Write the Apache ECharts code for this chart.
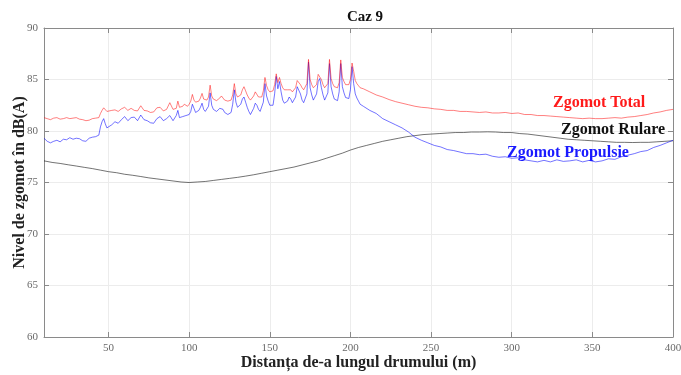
<!DOCTYPE html>
<html>
<head>
<meta charset="utf-8">
<script src="https://cdn.jsdelivr.net/npm/echarts@6/dist/echarts.min.js"></script>
<style>html,body{margin:0;padding:0;background:#fff}#c{width:681px;height:375px}</style>
</head>
<body>
<div id="c"></div>
<script>
// Distance samples shared by Zgomot Total and Zgomot Propulsie (m)
var distTP = [10,12,14,16,18,20,22,24,26,28,30,32,34,36,38,40,42,44,
45,46,47,48,49,50,52,54,56,58,60,62,64,66,68,70,72,74,76,78,80,82,84,86,88,90,92,93,94,96,
97,98,99,100,101,102,103,104,105,106,107,108,109,110,111,112,113,114,115,116,117,118,119,120,
121,122,123,124,125,126,127,128,129,130,131,132,133,134,135,136,137,138,139,140,141,142,143,144,
145,146,147,148,149,150,151,152,153,154,155,156,157,158,159,160,161,162,163,164,165,166,167,168,
169,170,171,172,173,174,175,176,177,178,179,180,181,182,183,184,185,186,187,188,189,190,191,192,
193,194,195,196,197,198,199,200,201,202,203,204,205,206,
208,212,216,220,224,228,232,236,240,244,248,252,256,260,264,268,272,276,280,284,288,292,296,300,
304,308,312,316,320,324,328,332,336,340,344,348,352,356,360,364,368,372,376,380,384,388,392,396,400];

var totalDB = [81.3,81.2,81.1,81.25,81.3,81.15,81.2,81.3,81.2,81.25,81.3,81.15,81.1,81.0,81.05,81.2,81.25,81.3,
81.7,82.0,82.25,82.1,81.9,81.85,82.0,82.05,81.9,82.15,82.3,82.0,82.2,82.0,81.95,82.45,82.0,81.95,81.8,81.85,82.25,82.3,81.95,82.1,82.75,82.1,82.2,82.9,82.3,82.4,
82.6,82.5,82.4,82.6,82.9,83.55,83.0,82.8,82.7,82.9,83.2,83.65,83.1,82.95,83.0,83.3,84.45,83.4,83.1,83.0,82.95,83.0,83.2,83.4,
83.2,83.0,82.95,82.9,82.9,83.0,83.5,84.6,83.6,83.3,83.25,83.5,84.0,84.3,83.9,83.5,83.2,83.0,83.05,83.4,83.8,83.75,83.3,83.2,
83.3,83.9,85.2,84.4,84.0,83.8,83.75,83.9,84.5,85.55,84.7,85.2,84.6,84.2,84.0,83.95,84.0,84.1,84.0,83.8,83.8,84.2,84.9,84.8,
84.5,84.2,84.0,84.0,84.6,86.95,85.0,84.5,84.2,84.15,84.5,85.5,85.65,85.0,84.5,84.2,84.15,84.6,86.95,85.1,84.6,84.3,84.2,84.2,
84.7,86.9,85.2,84.8,84.5,84.45,84.5,85.0,86.6,85.8,84.9,84.6,84.4,84.2,
84.1,83.8,83.5,83.3,83.05,82.85,82.7,82.55,82.4,82.3,82.25,82.15,82.1,82.0,82.0,81.9,81.9,81.85,81.8,81.85,81.75,81.75,81.8,81.7,
81.75,81.6,81.6,81.5,81.5,81.45,81.4,81.35,81.3,81.25,81.2,81.25,81.2,81.2,81.25,81.3,81.25,81.35,81.4,81.5,81.6,81.75,81.85,82.0,82.1];

var propulsieDB = [79.3,79.0,78.85,79.0,79.1,78.95,79.2,79.15,79.35,79.2,79.3,79.25,79.05,79.0,79.3,79.4,79.45,79.6,
80.4,80.9,81.2,80.7,80.3,80.4,80.6,80.9,80.75,81.1,81.4,81.0,81.3,81.35,81.0,81.55,81.1,81.0,80.8,80.75,81.2,81.4,81.0,81.2,81.5,81.0,81.5,82.0,81.3,81.4,
81.3,81.5,81.4,81.6,81.9,82.6,82.2,81.8,81.7,82.0,82.3,82.7,82.1,81.9,81.95,82.4,83.7,82.5,82.1,81.95,81.9,82.0,82.2,82.35,
82.1,81.8,81.7,81.6,81.55,81.8,82.6,84.0,82.8,82.3,82.2,82.6,83.1,83.3,82.8,82.3,81.9,81.6,81.6,82.2,82.7,82.5,82.1,81.9,
81.95,82.8,84.6,83.4,82.9,82.5,82.35,82.5,83.6,85.3,84.1,84.8,83.8,83.0,82.7,82.7,82.9,83.3,83.1,82.75,82.7,83.3,84.3,84.2,
83.6,83.0,82.75,82.7,83.6,86.7,84.2,83.5,83.0,82.95,83.6,84.8,85.1,84.2,83.5,83.0,82.85,83.7,86.55,84.3,83.6,83.1,83.0,82.95,
83.8,86.55,84.3,83.7,83.25,83.1,83.15,84.0,86.25,84.6,83.6,83.2,82.9,82.6,
82.4,82.0,81.7,81.2,80.9,80.6,80.3,79.9,79.4,79.1,78.85,78.6,78.45,78.2,78.1,77.95,77.8,77.8,77.7,77.75,77.55,77.45,77.5,77.35,
77.4,77.2,77.1,77.0,77.15,77.0,77.2,77.05,77.1,77.2,77.0,77.15,77.0,77.1,77.3,77.25,77.5,77.65,77.8,78.0,78.1,78.4,78.6,78.85,79.1];

// Zgomot Rulare
var distRul = [10,15,20,25,30,35,40,45,50,55,60,65,70,75,80,85,90,95,100,105,110,115,120,125,130,135,140,145,150,
155,160,165,170,175,180,185,190,195,200,205,210,215,220,225,230,235,240,245,250,255,260,265,270,275,280,285,290,
295,300,305,310,315,320,325,330,335,340,345,350,355,360,365,370,375,380,385,390,395,400];
var rulareDB = [77.1,76.95,76.85,76.72,76.6,76.47,76.35,76.2,76.05,75.95,75.8,75.7,75.58,75.45,75.35,75.25,75.15,75.05,75.0,75.05,75.1,75.2,75.3,75.4,75.5,75.62,75.75,75.9,76.05,
76.2,76.35,76.5,76.7,76.9,77.1,77.35,77.6,77.85,78.15,78.4,78.6,78.8,79.0,79.15,79.3,79.45,79.55,79.65,79.7,79.75,79.8,79.85,79.85,79.9,79.9,79.92,79.9,
79.85,79.85,79.75,79.7,79.6,79.5,79.4,79.3,79.2,79.15,79.1,79.05,79.0,78.95,78.9,78.9,78.88,78.9,78.9,78.95,79.0,79.05];

var seriesNames = ['Zgomot Total', 'Zgomot Rulare', 'Zgomot Propulsie'];

function pairs(xs, ys) { return xs.map(function (x, i) { return [x, ys[i]]; }); }

var serif = '"Liberation Serif","Times New Roman",serif';
var chart = echarts.init(document.getElementById('c'), null, {renderer: 'canvas'});
var axisGray = '#8a8a8a';
var labelGray = '#6a6a6a';
chart.setOption({
  animation: false,
  backgroundColor: '#fff',
  title: {
    text: 'Caz 9', left: 360, top: 5, textAlign: 'center',
    textStyle: {fontFamily: serif, fontWeight: 'bold', fontSize: 15, color: '#111'}
  },
  grid: {left: 44, right: 8, top: 28, bottom: 38, containLabel: false, outerBoundsMode: 'none'},
  xAxis: [{
    type: 'value', min: 10, max: 400, splitNumber: 8,
    name: 'Distanța de-a lungul drumului (m)', nameLocation: 'middle', nameGap: 18, nameMoveOverlap: false,
    nameTextStyle: {fontFamily: serif, fontWeight: 'bold', fontSize: 16, color: '#222', verticalAlign: 'top'},
    axisLine: {show: true, onZero: false, lineStyle: {color: axisGray, width: 1}},
    axisTick: {show: true, inside: true, length: 5, lineStyle: {color: axisGray}},
    axisLabel: {showMinLabel: false, fontFamily: serif, fontSize: 11, color: labelGray, margin: 6},
    splitLine: {show: true, lineStyle: {color: '#ececec', width: 1}}
  }, {
    type: 'value', min: 10, max: 400, splitNumber: 8, position: 'top',
    axisLine: {show: true, onZero: false, lineStyle: {color: axisGray, width: 1}},
    axisTick: {show: true, inside: true, length: 5, lineStyle: {color: axisGray}},
    axisLabel: {show: false}, splitLine: {show: false}
  }],
  yAxis: [{
    type: 'value', min: 60, max: 90, interval: 5,
    name: 'Nivel de zgomot în dB(A)', nameLocation: 'middle', nameGap: 16, nameMoveOverlap: false,
    nameTextStyle: {fontFamily: serif, fontWeight: 'bold', fontSize: 16, color: '#222'},
    axisLine: {show: true, onZero: false, lineStyle: {color: axisGray, width: 1}},
    axisTick: {show: true, inside: true, length: 5, lineStyle: {color: axisGray}},
    axisLabel: {fontFamily: serif, fontSize: 11, color: labelGray, margin: 6},
    splitLine: {show: true, lineStyle: {color: '#ececec', width: 1}}
  }, {
    type: 'value', min: 60, max: 90, interval: 5, position: 'right',
    axisLine: {show: true, onZero: false, lineStyle: {color: axisGray, width: 1}},
    axisTick: {show: true, inside: true, length: 5, lineStyle: {color: axisGray}},
    axisLabel: {show: false}, splitLine: {show: false}
  }],
  series: [{
    name: seriesNames[1], type: 'line', showSymbol: false, symbol: 'none',
    data: pairs(distRul, rulareDB),
    lineStyle: {color: 'rgba(0,0,0,0.55)', width: 1}, z: 2
  }, {
    name: seriesNames[2], type: 'line', showSymbol: false, symbol: 'none',
    data: pairs(distTP, propulsieDB),
    lineStyle: {color: 'rgba(0,0,255,0.55)', width: 1}, z: 3
  }, {
    name: seriesNames[0], type: 'line', showSymbol: false, symbol: 'none',
    data: pairs(distTP, totalDB),
    lineStyle: {color: 'rgba(255,0,0,0.5)', width: 1}, z: 4
  }],
  graphic: [
    {type: 'text', left: 553, top: 95, z: 10, style: {text: seriesNames[0], font: 'bold 16px ' + serif, fill: '#ff1a1a'}},
    {type: 'text', left: 561, top: 122, z: 10, style: {text: seriesNames[1], font: 'bold 16px ' + serif, fill: '#111'}},
    {type: 'text', left: 507, top: 145, z: 10, style: {text: seriesNames[2], font: 'bold 16px ' + serif, fill: '#1a1aff'}}
  ]
});
</script>
</body>
</html>
